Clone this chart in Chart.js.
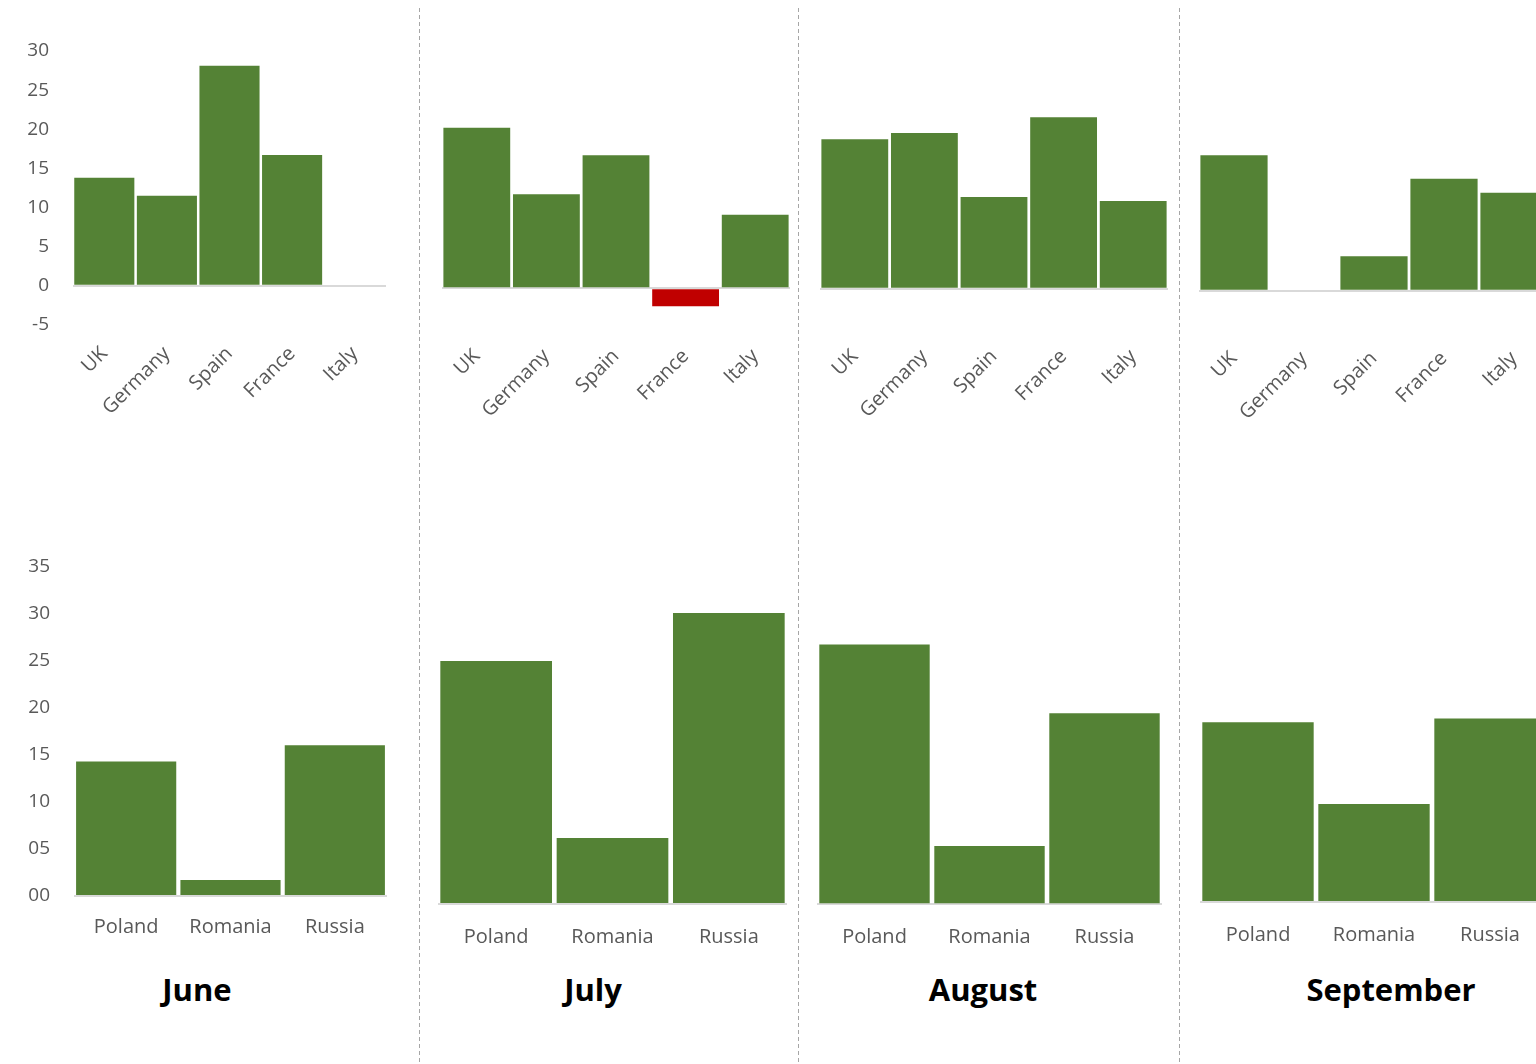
<!DOCTYPE html>
<html><head><meta charset="utf-8">
<script src="https://cdn.jsdelivr.net/npm/chart.js@4.4.1/dist/chart.umd.min.js"></script>
<style>
html,body{margin:0;padding:0;background:#fff;overflow:hidden;width:1536px;height:1064px;}
#wrap{position:relative;width:1536px;height:1064px;overflow:hidden;background:#fff;}
canvas.c{position:absolute;}
.title{position:absolute;font-family:'Open Sans',sans-serif;font-weight:700;font-size:31px;color:#000;transform:translate(-50%,-50%);white-space:nowrap;}
svg{position:absolute;left:0;top:0;}
</style></head>
<body><div id="wrap">
<svg width="1536" height="1064">
  <line x1="419.5" y1="8" x2="419.5" y2="1064" stroke="#a6a6a6" stroke-width="1" stroke-dasharray="4 3"/>
  <line x1="798.5" y1="8" x2="798.5" y2="1064" stroke="#a6a6a6" stroke-width="1" stroke-dasharray="4 3"/>
  <line x1="1179.5" y1="8" x2="1179.5" y2="1064" stroke="#a6a6a6" stroke-width="1" stroke-dasharray="4 3"/>
</svg>
</div>
<script>
// ---- data ----
const months = ['June', 'July', 'August', 'September'];
const westCountries = ['UK', 'Germany', 'Spain', 'France', 'Italy'];
const eastCountries = ['Poland', 'Romania', 'Russia'];
const westJune = [13.8, 11.5, 28.1, 16.7, 0];
const westJuly = [20.5, 12.0, 17.0, -2.3, 9.4];
const westAugust = [19.1, 19.9, 11.7, 21.9, 11.2];
const westSeptember = [17.3, 0, 4.4, 14.3, 12.5];
const eastJune = [14.3, 1.7, 16.0];
const eastJuly = [25.8, 7.0, 30.9];
const eastAugust = [27.6, 6.2, 20.3];
const eastSeptember = [19.1, 10.4, 19.5];
const westTickLabels = ['-5', '0', '5', '10', '15', '20', '25', '30'];
const eastTickLabels = ['00', '05', '10', '15', '20', '25', '30', '35'];

const westSeries = [westJune, westJuly, westAugust, westSeptember];
const eastSeries = [eastJune, eastJuly, eastAugust, eastSeptember];

// ---- layout (positions only) ----
const westLayout = [
  {left:0,    width:392, padLeft:0,  padRight:6, padTop:51,   xHeight:115,   yWidth:73, showY:true,  xPad:9},
  {left:420,  width:376, padLeft:22, padRight:6, padTop:53.4, xHeight:112.5, yWidth:0,  showY:false, xPad:9},
  {left:800,  width:374, padLeft:20, padRight:6, padTop:53.8, xHeight:112.1, yWidth:0,  showY:false, xPad:9},
  {left:1181, width:374, padLeft:18, padRight:6, padTop:55.8, xHeight:110.1, yWidth:0,  showY:false, xPad:9}
];
const eastLayout = [
  {left:0,    width:393, padLeft:0,  padRight:6, padTop:46.5, xHeight:64,   yWidth:74, showY:true,  xPad:11},
  {left:420,  width:373, padLeft:18, padRight:6, padTop:54.5, xHeight:56,   yWidth:0,  showY:false, xPad:13},
  {left:800,  width:368, padLeft:17, padRight:6, padTop:54.8, xHeight:55.7, yWidth:0,  showY:false, xPad:13},
  {left:1181, width:373, padLeft:19, padRight:6, padTop:52.5, xHeight:58,   yWidth:0,  showY:false, xPad:13}
];
const titleX = [197, 593, 983, 1391];

const wrap = document.getElementById('wrap');
const GREEN = '#548235', RED = '#C00000', LABEL = '#595959';
const FONT = "'Open Sans', sans-serif";

function makeChart(top, height, L, labels, values, min, max, tickLabels, rot) {
  const cv = document.createElement('canvas');
  cv.className = 'c';
  cv.style.left = L.left + 'px';
  cv.style.top = top + 'px';
  cv.style.width = L.width + 'px';
  cv.style.height = height + 'px';
  cv.width = L.width; cv.height = height;
  wrap.appendChild(cv);
  new Chart(cv, {
    type: 'bar',
    data: {
      labels: labels,
      datasets: [{
        data: values,
        backgroundColor: values.map(v => v < 0 ? RED : GREEN),
        borderWidth: 0,
        barPercentage: 0.96,
        categoryPercentage: 1
      }]
    },
    options: {
      responsive: false, maintainAspectRatio: false, animation: false, devicePixelRatio: 1,
      layout: {padding: {left: L.padLeft, right: L.padRight, top: L.padTop, bottom: 0}},
      plugins: {legend: {display: false}, tooltip: {enabled: false}},
      scales: {
        x: {
          grid: {display: false}, border: {display: false},
          ticks: {autoSkip: false, maxRotation: rot, minRotation: rot, color: LABEL,
                  font: {family: FONT, size: 20}, padding: L.xPad},
          afterFit: s => { s.height = L.xHeight; }
        },
        y: {
          min: min, max: max,
          ticks: {stepSize: 5, display: L.showY, color: LABEL, font: {family: FONT, size: 19}, padding: 24,
                  callback: v => tickLabels[Math.round((v - min) / 5)]},
          grid: {drawTicks: false, lineWidth: 2,
                 color: c => (c.tick && c.tick.value === 0) ? '#d9d9d9' : 'rgba(0,0,0,0)'},
          border: {display: false},
          afterFit: s => { s.width = L.yWidth; }
        }
      }
    }
  });
}

for (let i = 0; i < 4; i++) {
  makeChart(0, 440, westLayout[i], westCountries, westSeries[i], -5, 30, westTickLabels, 45);
  makeChart(520, 440, eastLayout[i], eastCountries, eastSeries[i], 0, 35, eastTickLabels, 0);
  const t = document.createElement('div');
  t.className = 'title';
  t.textContent = months[i];
  t.style.left = titleX[i] + 'px';
  t.style.top = '989px';
  wrap.appendChild(t);
}
</script>
</body></html>
